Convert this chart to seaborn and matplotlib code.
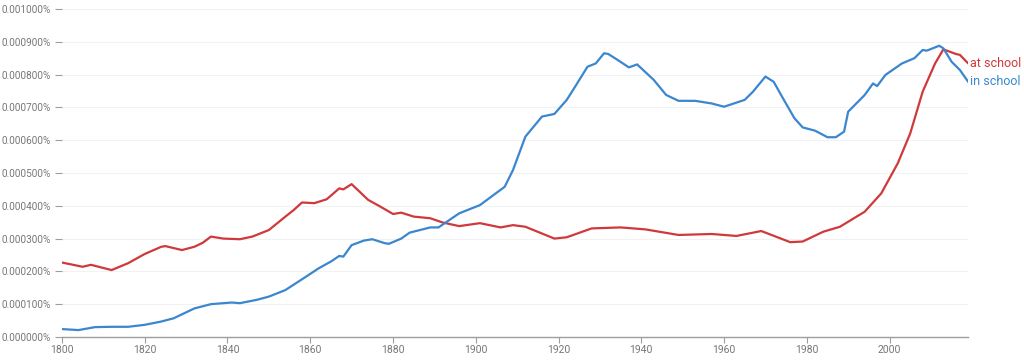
import matplotlib
matplotlib.use('Agg')
import matplotlib.pyplot as plt
import matplotlib.ticker as mticker
import numpy as np
import pandas as pd
import seaborn as sns

# values, in units of 0.0001 %
at_years = [1800, 1805, 1807, 1812, 1816, 1820, 1824, 1825, 1829, 1832, 1834, 1836,
            1839, 1843, 1846, 1850, 1854, 1856, 1858, 1861, 1864, 1867, 1868, 1870,
            1874, 1877, 1880, 1882, 1885, 1889, 1892, 1896, 1901, 1906, 1909, 1912,
            1919, 1922, 1928, 1935, 1941, 1949, 1957, 1963, 1969, 1976, 1979, 1984,
            1988, 1994, 1998, 2002, 2005, 2008, 2011, 2013, 2016, 2017, 2019]
at_school = [2.27, 2.14, 2.20, 2.04, 2.25, 2.53, 2.75, 2.77, 2.65, 2.75, 2.87, 3.06,
             3.00, 2.98, 3.06, 3.26, 3.67, 3.87, 4.10, 4.08, 4.20, 4.53, 4.50, 4.66,
             4.18, 3.97, 3.75, 3.79, 3.67, 3.62, 3.49, 3.38, 3.47, 3.34, 3.41, 3.36,
             3.00, 3.04, 3.31, 3.34, 3.28, 3.11, 3.14, 3.08, 3.23, 2.89, 2.91, 3.21,
             3.36, 3.82, 4.38, 5.30, 6.21, 7.48, 8.34, 8.77, 8.63, 8.60, 8.34]

in_years = [1800, 1804, 1808, 1812, 1816, 1820, 1824, 1827, 1832, 1836, 1841, 1843,
            1847, 1850, 1854, 1859, 1862, 1865, 1867, 1868, 1870, 1873, 1875, 1878,
            1879, 1882, 1884, 1889, 1891, 1896, 1901, 1907, 1909, 1912, 1916, 1919,
            1922, 1924, 1927, 1929, 1931, 1932, 1934, 1937, 1939, 1943, 1946, 1949,
            1953, 1957, 1960, 1965, 1967, 1970, 1972, 1974, 1977, 1979, 1982, 1985,
            1987, 1989, 1990, 1994, 1996, 1997, 1999, 2003, 2006, 2008, 2009, 2012,
            2013, 2015, 2017, 2019]
in_school = [0.24, 0.21, 0.30, 0.31, 0.31, 0.37, 0.47, 0.57, 0.87, 1.00, 1.05, 1.03,
             1.13, 1.23, 1.43, 1.84, 2.09, 2.30, 2.47, 2.45, 2.80, 2.94, 2.98, 2.86,
             2.84, 3.00, 3.18, 3.34, 3.34, 3.77, 4.02, 4.58, 5.09, 6.11, 6.72, 6.80,
             7.23, 7.63, 8.24, 8.34, 8.65, 8.63, 8.47, 8.22, 8.31, 7.84, 7.38, 7.20,
             7.20, 7.12, 7.02, 7.23, 7.48, 7.94, 7.78, 7.33, 6.67, 6.39, 6.29, 6.09,
             6.09, 6.26, 6.87, 7.38, 7.73, 7.65, 7.99, 8.34, 8.50, 8.75, 8.73, 8.88,
             8.80, 8.39, 8.14, 7.78]

labels = ['at school', 'in school']
colors = ['#d0393b', '#3a86cf']
y_ticks = [i * 0.0001 for i in range(11)]
x_ticks = list(range(1800, 2001, 20))

df = pd.concat([
    pd.DataFrame({'year': at_years, 'pct': np.array(at_school) * 1e-4, 'phrase': labels[0]}),
    pd.DataFrame({'year': in_years, 'pct': np.array(in_school) * 1e-4, 'phrase': labels[1]}),
])

sns.set_theme(style='white')
plt.rcParams['font.family'] = ['Roboto', 'DejaVu Sans']

fig = plt.figure(figsize=(10.24, 3.6), dpi=100)
ax = fig.add_axes([0.0605, 0.064, 0.885, 0.911])

sns.lineplot(data=df, x='year', y='pct', hue='phrase', palette=colors,
             hue_order=labels, linewidth=1.6, legend=False, ax=ax,
             solid_joinstyle='round', solid_capstyle='round')

ax.set_xlim(1800, 2019)
ax.set_ylim(0, 0.001)
ax.set_yticks(y_ticks)
ax.set_xticks(x_ticks)
ax.yaxis.set_major_formatter(mticker.FuncFormatter(lambda v, p: f'{v:.6f}%'))
ax.grid(axis='y', color='#f2f2f2', linewidth=0.8)
ax.set_axisbelow(True)
ax.set_xlabel('')
ax.set_ylabel('')

grey = '#777777'
sns.despine(ax=ax, left=True, top=True, right=True)
ax.spines['bottom'].set_color('#9e9e9e')
ax.spines['bottom'].set_linewidth(1.0)
ax.tick_params(axis='y', length=5, width=0.8, color='#9e9e9e', labelcolor=grey,
               labelsize=7.2, pad=3, left=True)
ax.tick_params(axis='x', length=4, width=0.8, color='#9e9e9e', labelcolor=grey,
               labelsize=7.5, pad=2, bottom=True)

# end labels
ax.text(at_years[-1] + 0.5, at_school[-1] * 1e-4, labels[0], color=colors[0],
        fontsize=9, va='center', ha='left', clip_on=False)
ax.text(in_years[-1] + 0.5, in_school[-1] * 1e-4, labels[1], color=colors[1],
        fontsize=9, va='center', ha='left', clip_on=False)

fig.savefig('out.png', dpi=100)
